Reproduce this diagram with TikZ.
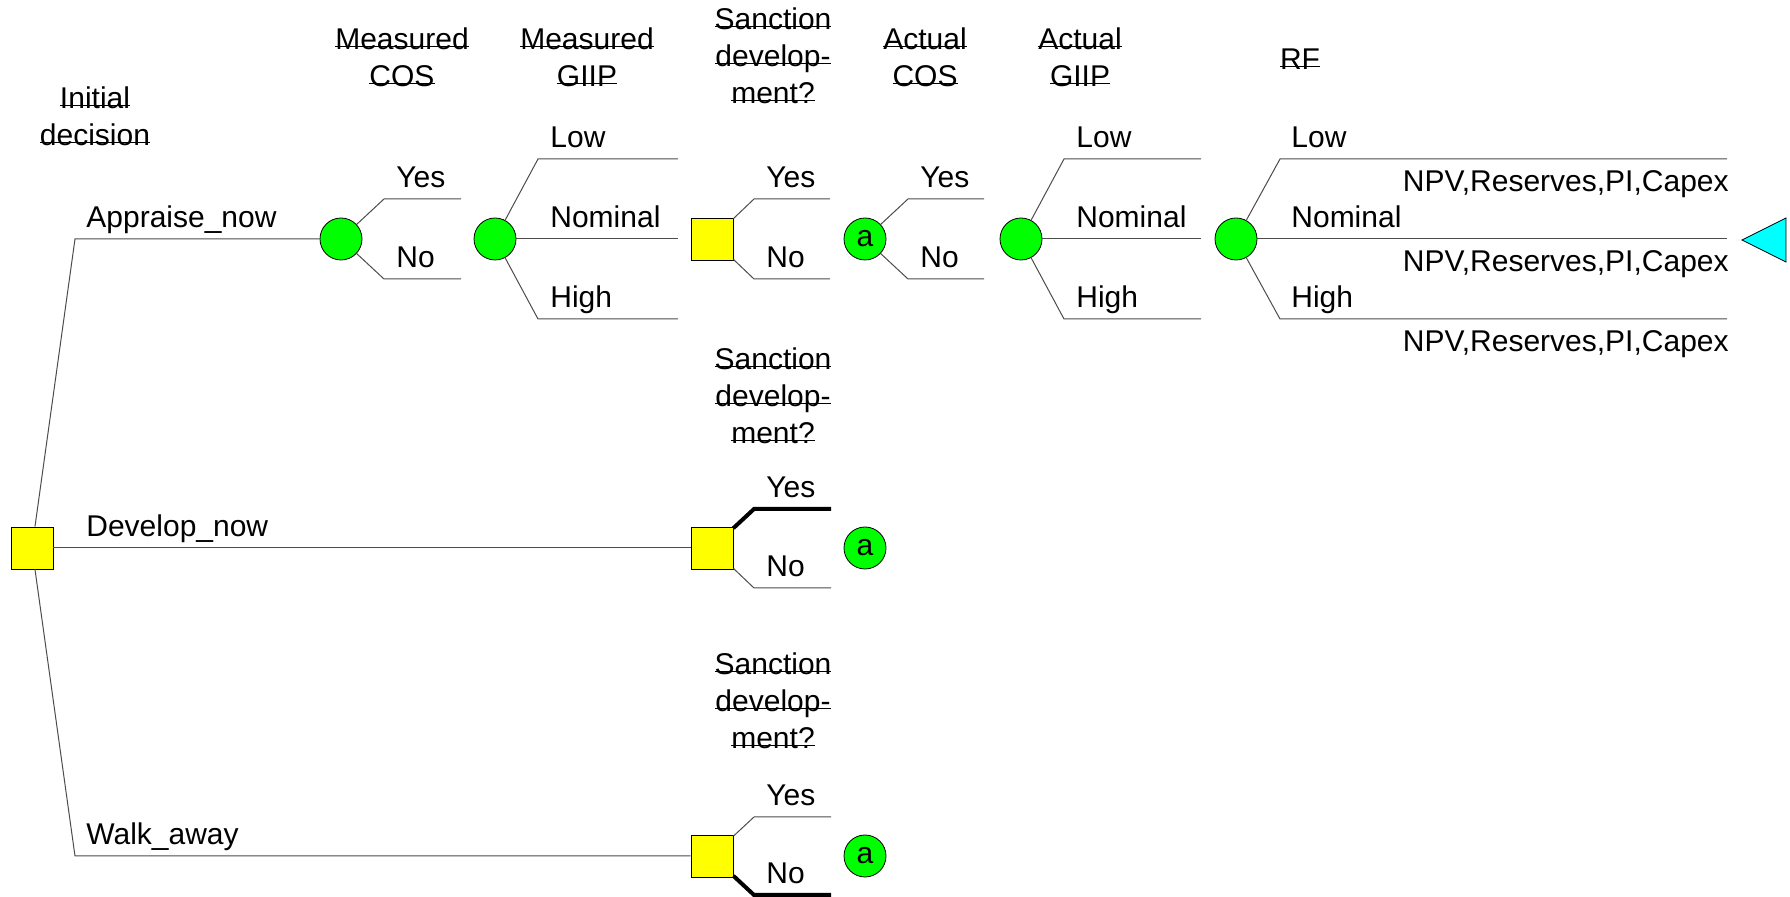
\documentclass[tikz,border=0pt]{standalone}
\usepackage{fontspec}
\setmainfont{Liberation Sans}
\usetikzlibrary{calc}

\definecolor{chancegreen}{RGB}{0,255,0}
\definecolor{decyellow}{RGB}{255,255,0}
\definecolor{endcyan}{RGB}{0,255,255}

\newsavebox{\headbox}
\newcommand{\ulhead}[1]{\sbox{\headbox}{#1}\rlap{\rule[1.2pt]{\wd\headbox}{0.6pt}}\usebox{\headbox}}

\tikzset{
  chance/.style={circle, draw, fill=chancegreen, inner sep=0pt, minimum size=21pt},
  decision/.style={rectangle, draw, fill=decyellow, inner sep=0pt, minimum size=21pt},
  branch/.style={draw=black!70, line width=0.5pt},
  chosen/.style={draw=black, line width=2pt},
  lbl/.style={anchor=base west, inner sep=0pt},
  payoff/.style={anchor=base east, inner sep=0pt},
  head/.style={align=center, inner sep=0pt}
}

\begin{document}
\begin{tikzpicture}[x=0.5pt, y=-0.5pt, every node/.style={font=\fontsize{15}{18.5}\selectfont}]
      \useasboundingbox (0, 0) rectangle (1790, 897);

      \node[decision] (d0) at (32, 548) {};
      \node[chance] (c1) at (341, 239) {};
      \node[chance] (c2) at (495, 239) {};
      \node[decision] (d1) at (712, 239) {};
      \node[chance] (c3) at (865, 239) {a};
      \node[chance] (c4) at (1021, 239) {};
      \node[chance] (c5) at (1236, 239) {};
      \node[decision] (d2) at (712, 548) {};
      \node[chance] (a2) at (865, 548) {a};
      \node[decision] (d3) at (712, 856) {};
      \node[chance] (a3) at (865, 856) {a};
      \coordinate (t) at (1742, 240);

      \coordinate (k1) at (75, 239);
      \coordinate (k3) at (75, 856);
      \draw[branch] (d0) -- (k1) -- (c1);
      \draw[branch] (d0) -- (d2);
      \draw[branch] (d0) -- (k3) -- (d3);

      \draw[branch] (c1) -- (384, 199) -- (461, 199);
      \draw[branch] (c1) -- (384, 279) -- (461, 279);

      \draw[branch] (c2) -- (538, 159) -- (678, 159);
      \draw[branch] (c2) -- (678, 239);
      \draw[branch] (c2) -- (538, 319) -- (678, 319);

      \draw[branch] (d1) -- (754, 199) -- (830, 199);
      \draw[branch] (d1) -- (754, 279) -- (830, 279);

      \draw[branch] (c3) -- (908, 199) -- (984, 199);
      \draw[branch] (c3) -- (908, 279) -- (984, 279);

      \draw[branch] (c4) -- (1064, 159) -- (1201, 159);
      \draw[branch] (c4) -- (1201, 239);
      \draw[branch] (c4) -- (1064, 319) -- (1201, 319);

      \draw[branch] (c5) -- (1280, 159) -- (1727, 159);
      \draw[branch] (c5) -- (1727, 239);
      \draw[branch] (c5) -- (1280, 319) -- (1727, 319);

      \draw[chosen] (d2) -- (754, 509) -- (831, 509);
      \draw[branch] (d2) -- (754, 588) -- (831, 588);
      \draw[branch] (d3) -- (754, 817) -- (831, 817);
      \draw[chosen] (d3) -- (754, 895) -- (831, 895);

      \draw[fill=endcyan] (t) -- ++(44, -22) -- ++(0, 44) -- cycle;

      \node[lbl] (l1) at (86, 228) {Appraise\_now};
      \node[lbl] (l2) at (86, 537) {Develop\_now};
      \node[lbl] (l3) at (86, 845) {Walk\_away};

      \node[lbl] at (396, 188) {Yes};
      \node[lbl] at (396, 268) {No};
      \node[lbl] at (550, 148) {Low};
      \node[lbl] at (550, 228) {Nominal};
      \node[lbl] at (550, 308) {High};
      \node[lbl] at (766, 188) {Yes};
      \node[lbl] at (766, 268) {No};
      \node[lbl] at (920, 188) {Yes};
      \node[lbl] at (920, 268) {No};
      \node[lbl] at (1076, 148) {Low};
      \node[lbl] at (1076, 228) {Nominal};
      \node[lbl] at (1076, 308) {High};
      \node[lbl] at (1291, 148) {Low};
      \node[lbl] at (1291, 228) {Nominal};
      \node[lbl] at (1291, 308) {High};
      \node[payoff] at (1729, 192) {NPV,Reserves,PI,Capex};
      \node[payoff] at (1729, 272) {NPV,Reserves,PI,Capex};
      \node[payoff] at (1729, 352) {NPV,Reserves,PI,Capex};
      \node[lbl] at (766, 498) {Yes};
      \node[lbl] at (766, 577) {No};
      \node[lbl] at (766, 806) {Yes};
      \node[lbl] at (766, 884) {No};

      \node[head] (h0) at (95, 116) {\ulhead{Initial}\\\ulhead{decision}};
      \node[head] (h1) at (402, 57) {\ulhead{Measured}\\\ulhead{COS}};
      \node[head] (h2) at (587, 57) {\ulhead{Measured}\\\ulhead{GIIP}};
      \node[head] (h3) at (773, 56) {\ulhead{Sanction}\\\ulhead{develop-}\\\ulhead{ment?}};
      \node[head] (h4) at (925, 57) {\ulhead{Actual}\\\ulhead{COS}};
      \node[head] (h5) at (1080, 57) {\ulhead{Actual}\\\ulhead{GIIP}};
      \node[head] (h6) at (1300, 59) {\ulhead{RF}};
      \node[head] (h7) at (773, 396) {\ulhead{Sanction}\\\ulhead{develop-}\\\ulhead{ment?}};
      \node[head] (h8) at (773, 701) {\ulhead{Sanction}\\\ulhead{develop-}\\\ulhead{ment?}};
    \end{tikzpicture}
\end{document}
